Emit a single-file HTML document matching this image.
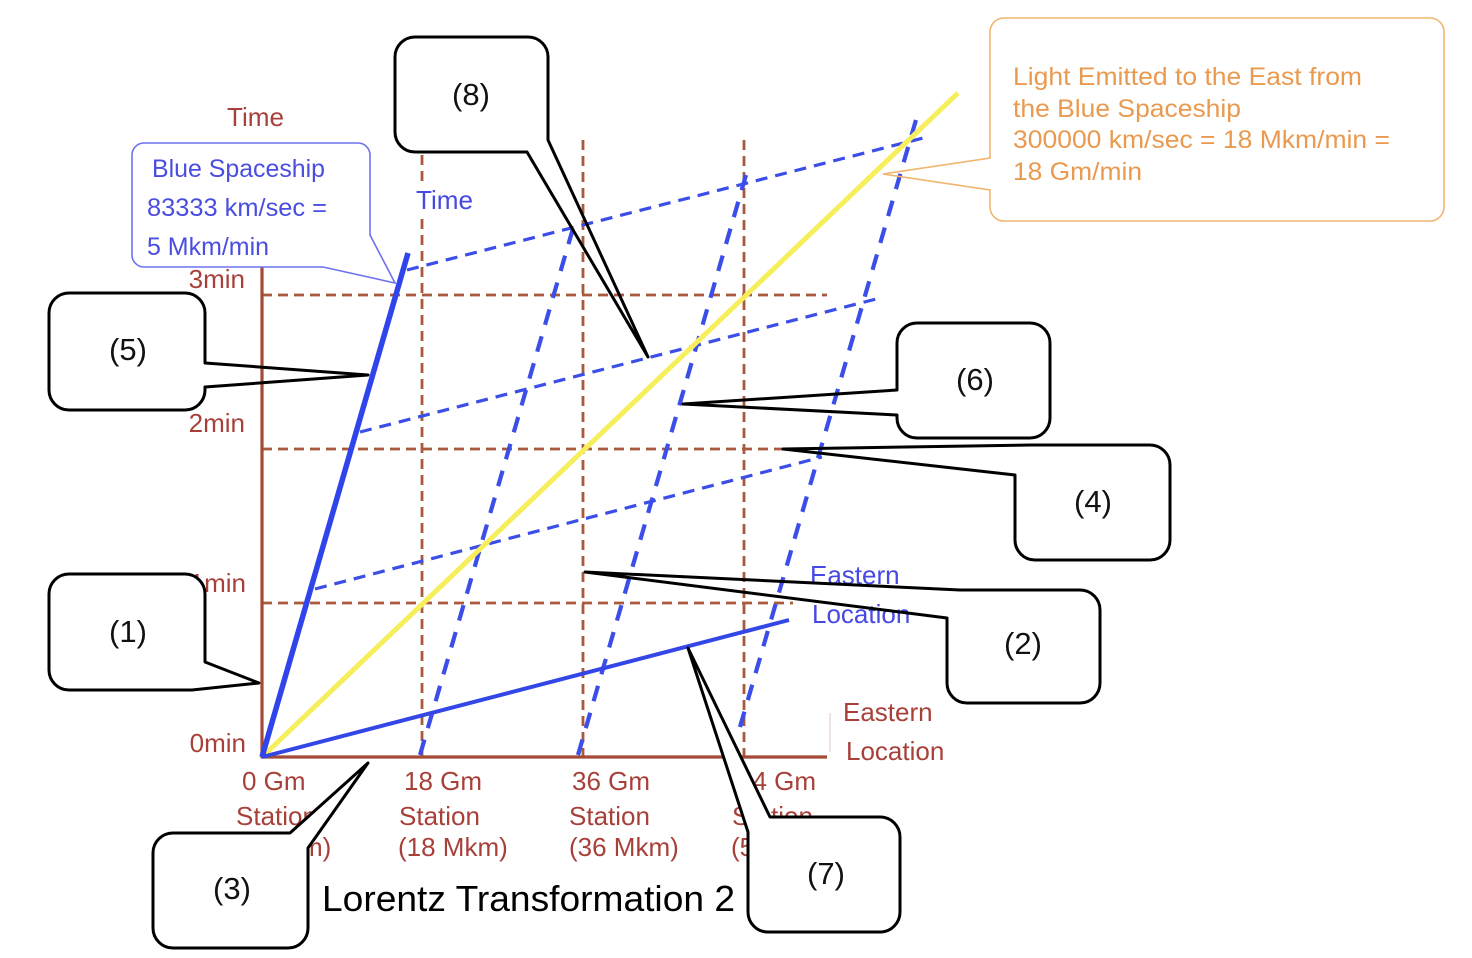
<!DOCTYPE html>
<html>
<head>
<meta charset="utf-8">
<style>
  html, body { margin:0; padding:0; background:#fff; }
  body { width:1472px; height:958px; overflow:hidden; }
  svg { display:block; }
  text { font-family: "Liberation Sans", Arial, sans-serif; }
</style>
</head>
<body>
<svg width="1472" height="958" viewBox="0 0 1472 958" xmlns="http://www.w3.org/2000/svg">
  <rect x="0" y="0" width="1472" height="958" fill="#ffffff"/>

  <!-- faint tick near eastern location -->
  <line x1="830" y1="713" x2="830" y2="752" stroke="#e6d8d8" stroke-width="1.5"/>

  <!-- brown dashed grid -->
  <g stroke="#a95a3d" stroke-width="2.8" stroke-dasharray="10 6" fill="none">
    <line x1="262" y1="295" x2="827" y2="295"/>
    <line x1="262" y1="449" x2="783" y2="449"/>
    <line x1="262" y1="603" x2="793" y2="603"/>
    <line x1="422" y1="155" x2="422" y2="757"/>
    <line x1="583" y1="140" x2="583" y2="757"/>
    <line x1="744" y1="140" x2="744" y2="757"/>
  </g>

  <!-- axes -->
  <g stroke="#a34b36" stroke-width="3.2" fill="none">
    <line x1="262" y1="266" x2="262" y2="758"/>
    <line x1="261" y1="757" x2="827" y2="757"/>
  </g>

  <!-- blue shallow dashed (simultaneity lines) -->
  <g stroke="#3b4ee8" stroke-width="3.2" stroke-dasharray="12 8" fill="none">
    <line x1="315" y1="589" x2="822" y2="457"/>
    <line x1="360" y1="432" x2="880" y2="298"/>
    <line x1="407" y1="270" x2="927" y2="137"/>
  </g>

  <!-- blue steep dashed (station worldlines) -->
  <g stroke="#3b4ee8" stroke-width="4.2" stroke-dasharray="16 12" fill="none">
    <line x1="420" y1="755" x2="574" y2="225"/>
    <line x1="578" y1="755" x2="746" y2="175"/>
    <line x1="740" y1="727" x2="918" y2="113"/>
  </g>

  <!-- yellow light line -->
  <line x1="262" y1="757" x2="958" y2="93" stroke="#f6ee5a" stroke-width="5"/>

  <!-- blue spaceship worldline and x' axis -->
  <line x1="262" y1="757" x2="408" y2="253" stroke="#2f44ea" stroke-width="5.5"/>
  <line x1="262" y1="757" x2="789" y2="620" stroke="#3346e6" stroke-width="4"/>

  <!-- brown labels -->
  <g fill="#a8403a" font-size="26">
    <text x="227" y="126" textLength="57" lengthAdjust="spacingAndGlyphs">Time</text>
    <text x="245" y="288" text-anchor="end">3min</text>
    <text x="245" y="432" text-anchor="end">2min</text>
    <text x="246" y="592" text-anchor="end">1min</text>
    <text x="246" y="752" text-anchor="end">0min</text>

    <text x="242" y="790">0 Gm</text>
    <text x="236" y="825">Station</text>
    <text x="236" y="856">(0 Mkm)</text>

    <text x="404" y="790">18 Gm</text>
    <text x="399" y="825">Station</text>
    <text x="398" y="856">(18 Mkm)</text>

    <text x="572" y="790">36 Gm</text>
    <text x="569" y="825">Station</text>
    <text x="569" y="856">(36 Mkm)</text>

    <text x="738" y="790">54 Gm</text>
    <text x="732" y="825">Station</text>
    <text x="731" y="856">(54 Mkm)</text>

    <text x="843" y="721">Eastern</text>
    <text x="846" y="760">Location</text>
  </g>

  <!-- blue labels -->
  <rect x="413" y="186" width="62" height="28" fill="#fff"/>
  <g fill="#4649e2" font-size="26">
    <text x="416" y="209" textLength="57" lengthAdjust="spacingAndGlyphs">Time</text>
    <text x="810" y="584">Eastern</text>
    <text x="812" y="623">Location</text>
  </g>

  <!-- title -->
  <text x="322" y="911" font-size="36" fill="#000" textLength="413" lengthAdjust="spacingAndGlyphs">Lorentz Transformation 2</text>

  <!-- Blue spaceship callout -->
  <rect x="132" y="143" width="238" height="124" rx="12" fill="#fff"/>
  <path d="M144,143 H358 A12,12 0 0 1 370,155 V235 L395,283 L323,267 H144 A12,12 0 0 1 132,255 V155 A12,12 0 0 1 144,143 Z"
        fill="none" stroke="#6f72ee" stroke-width="1.6"/>
  <g fill="#4a4ee0" font-size="25">
    <text x="152" y="177" textLength="173" lengthAdjust="spacingAndGlyphs">Blue Spaceship</text>
    <text x="147" y="216" textLength="180" lengthAdjust="spacingAndGlyphs">83333 km/sec =</text>
    <text x="147" y="255" textLength="122" lengthAdjust="spacingAndGlyphs">5 Mkm/min</text>
  </g>

  <!-- Orange light callout -->
  <rect x="990" y="18" width="454" height="203" rx="14" fill="#fff"/>
  <path d="M1004,18 H1430 A14,14 0 0 1 1444,32 V207 A14,14 0 0 1 1430,221 H1004 A14,14 0 0 1 990,207 V190 L883,174 L990,158 V32 A14,14 0 0 1 1004,18 Z"
        fill="none" stroke="#f0b56e" stroke-width="1.6"/>
  <g fill="#e99a4f" font-size="25">
    <text x="1013" y="85" textLength="349" lengthAdjust="spacingAndGlyphs">Light Emitted to the East from</text>
    <text x="1013" y="117" textLength="228" lengthAdjust="spacingAndGlyphs">the Blue Spaceship</text>
    <text x="1013" y="148" textLength="377" lengthAdjust="spacingAndGlyphs">300000 km/sec = 18 Mkm/min =</text>
    <text x="1013" y="180" textLength="129" lengthAdjust="spacingAndGlyphs">18 Gm/min</text>
  </g>

  <!-- Black numbered callouts: white fills -->
  <g fill="#fff">
    <rect x="395" y="37" width="153" height="115" rx="20"/>
    <rect x="49" y="293" width="156" height="117" rx="20"/>
    <rect x="49" y="574" width="156" height="116" rx="20"/>
    <rect x="153" y="833" width="155" height="115" rx="20"/>
    <rect x="748" y="817" width="152" height="115" rx="20"/>
    <rect x="897" y="323" width="153" height="115" rx="20"/>
    <rect x="1015" y="445" width="155" height="115" rx="20"/>
    <rect x="947" y="590" width="153" height="113" rx="20"/>
    <!-- white-filled tails that hide labels -->
    <polygon points="290,833 368,763 308,848"/>
    <polygon points="770,817 688,648 748,832"/>
  </g>
  <g fill="none" stroke="#000" stroke-width="3" stroke-linejoin="round">
    <!-- (8) -->
    <path d="M415,37 H528 A20,20 0 0 1 548,57 V140 L648,357 L527,152 H415 A20,20 0 0 1 395,132 V57 A20,20 0 0 1 415,37 Z"/>
    <!-- (5) -->
    <path d="M69,293 H185 A20,20 0 0 1 205,313 V363 L368,375 L205,387 V390 A20,20 0 0 1 185,410 H69 A20,20 0 0 1 49,390 V313 A20,20 0 0 1 69,293 Z"/>
    <!-- (1) -->
    <path d="M69,574 H185 A20,20 0 0 1 205,594 V662 L259,683 L192,690 H69 A20,20 0 0 1 49,670 V594 A20,20 0 0 1 69,574 Z"/>
    <!-- (3) -->
    <path d="M173,833 H290 L368,763 L308,848 V928 A20,20 0 0 1 288,948 H173 A20,20 0 0 1 153,928 V853 A20,20 0 0 1 173,833 Z"/>
    <!-- (7) -->
    <path d="M770,817 H880 A20,20 0 0 1 900,837 V912 A20,20 0 0 1 880,932 H768 A20,20 0 0 1 748,912 V832 L688,648 Z"/>
    <!-- (6) -->
    <path d="M917,323 H1030 A20,20 0 0 1 1050,343 V418 A20,20 0 0 1 1030,438 H917 A20,20 0 0 1 897,418 V415 L683,404 L897,390 V343 A20,20 0 0 1 917,323 Z"/>
    <!-- (4) -->
    <path d="M1030,445 H1150 A20,20 0 0 1 1170,465 V540 A20,20 0 0 1 1150,560 H1035 A20,20 0 0 1 1015,540 V475 L783,449 Z"/>
    <!-- (2) -->
    <path d="M960,590 H1080 A20,20 0 0 1 1100,610 V683 A20,20 0 0 1 1080,703 H967 A20,20 0 0 1 947,683 V618 L585,572 Z"/>
  </g>
  <g fill="#111" font-size="31" text-anchor="middle">
    <text x="471" y="105">(8)</text>
    <text x="128" y="360">(5)</text>
    <text x="128" y="642">(1)</text>
    <text x="232" y="899">(3)</text>
    <text x="826" y="884">(7)</text>
    <text x="975" y="390">(6)</text>
    <text x="1093" y="512">(4)</text>
    <text x="1023" y="654">(2)</text>
  </g>
</svg>
</body>
</html>
